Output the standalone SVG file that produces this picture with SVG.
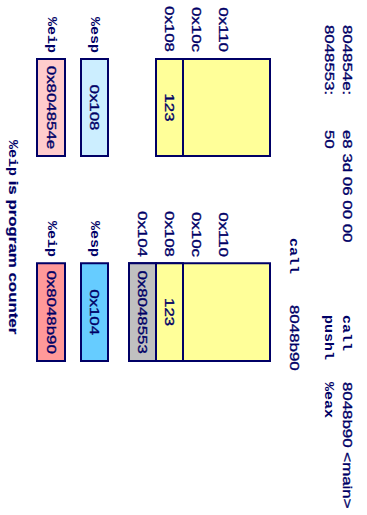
<svg xmlns="http://www.w3.org/2000/svg" width="367" height="515" viewBox="0 0 367 515">
  <style>
    .sans { font-family: "Liberation Sans", Arial, sans-serif; font-size: 13.5px; fill: #000066; stroke: #000066; stroke-width: 0.35; }
    .mono { font-family: "Liberation Mono", "Courier New", monospace; font-size: 12px; font-weight: bold; fill: #000066; stroke: none; }
    .bold { font-weight: bold; stroke-width: 0.2; }
    .box { stroke: #000066; stroke-width: 2; vector-effect: non-scaling-stroke; }
    .mid { text-anchor: middle; }
    .end { text-anchor: end; }
  </style>
  <rect width="367" height="515" fill="#ffffff"/>
  <!-- page drawn landscape, turned a quarter turn clockwise -->
  <g transform="translate(367,0) rotate(90) scale(1.25,1)">
    <g id="listing">
      <text class="sans" x="20" y="24">804854e:</text>
      <text class="sans" x="104" y="24" xml:space="preserve">e8 3d 06 00 00</text>
      <text class="mono" x="252" y="24">call</text>
      <text class="sans" x="305.6" y="24">8048b90 &lt;main&gt;</text>
      <text class="sans" x="20" y="42">8048553:</text>
      <text class="sans" x="104" y="42">50</text>
      <text class="mono" x="252" y="42">pushl</text>
      <text class="mono" x="305.6" y="42">%eax</text>
    </g>
    <g id="caption-after">
      <text class="mono" x="190.4" y="77">call</text>
      <text class="sans" x="244" y="77">8048b90</text>
    </g>

    <!-- stack before call -->
    <g id="stack-before">
      <rect class="box" x="47.2" y="97" width="77.6" height="114" fill="#ffff99"/>
      <rect class="box" x="47.2" y="184" width="77.6" height="27" fill="#ffff99"/>
      <text class="sans end" x="41.6" y="148">0x110</text>
      <text class="sans end" x="41.6" y="175">0x10c</text>
      <text class="sans end" x="41.6" y="202">0x108</text>
      <text class="sans mid" x="86" y="202">123</text>
    </g>

    <!-- stack after call -->
    <g id="stack-after">
      <rect class="box" x="210.6" y="97" width="78.2" height="141" fill="#ffff99"/>
      <rect class="box" x="210.6" y="184" width="78.2" height="27" fill="#ffff99"/>
      <rect class="box" x="210.6" y="211" width="78.2" height="27" fill="#c0c0c0"/>
      <text class="sans end" x="205.6" y="148">0x110</text>
      <text class="sans end" x="205.6" y="175">0x10c</text>
      <text class="sans end" x="205.6" y="202">0x108</text>
      <text class="sans end" x="205.6" y="229">0x104</text>
      <text class="sans mid" x="249.7" y="202">123</text>
      <text class="sans mid" x="249.7" y="229">0x8048553</text>
    </g>

    <!-- registers before call -->
    <g id="regs-before">
      <rect class="box" x="47.2" y="259" width="77.6" height="27" fill="#cceeff"/>
      <rect class="box" x="47.2" y="302" width="77.6" height="28" fill="#ffcccc"/>
      <text class="mono end" x="42.4" y="276">%esp</text>
      <text class="mono end" x="42.4" y="319">%eip</text>
      <text class="sans mid" x="86" y="277">0x108</text>
      <text class="sans mid" x="86" y="320.5">0x804854e</text>
    </g>

    <!-- registers after call -->
    <g id="regs-after">
      <rect class="box" x="210.6" y="259" width="78.2" height="27" fill="#66ccff"/>
      <rect class="box" x="210.6" y="302" width="78.2" height="28" fill="#ff9999"/>
      <text class="mono end" x="205.6" y="276">%esp</text>
      <text class="mono end" x="205.6" y="319">%eip</text>
      <text class="sans mid" x="249.7" y="277">0x104</text>
      <text class="sans mid" x="249.7" y="320.5">0x8048b90</text>
    </g>

    <g id="note">
      <text class="sans bold" x="112" y="358"><tspan class="mono">%eip</tspan> is program counter</text>
    </g>
  </g>
</svg>
